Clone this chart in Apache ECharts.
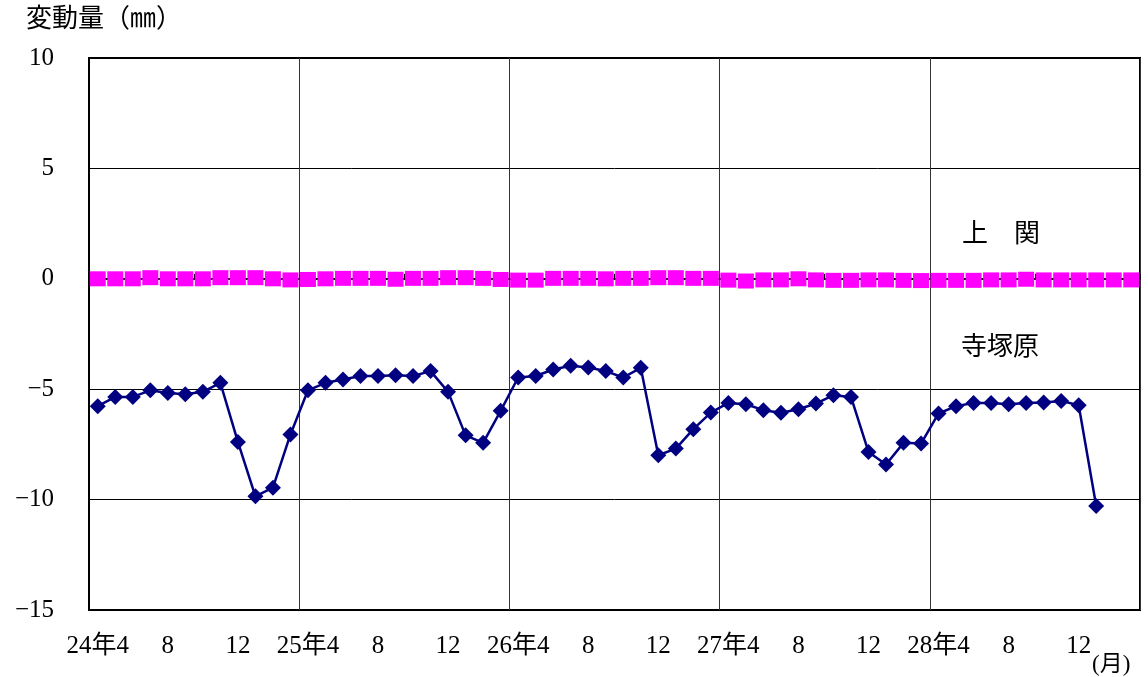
<!DOCTYPE html>
<html>
<head>
<meta charset="utf-8">
<script src="https://cdn.jsdelivr.net/npm/echarts@6/dist/echarts.min.js"></script>
<style>
html,body{margin:0;padding:0;background:#fff;}
#chart{width:1148px;height:677px;}
</style>
</head>
<body>
<div id="chart"></div>
<script>
const months = [
  '24年4','5','6','7','8','9','10','11','12','1','2','3',
  '25年4','5','6','7','8','9','10','11','12','1','2','3',
  '26年4','5','6','7','8','9','10','11','12','1','2','3',
  '27年4','5','6','7','8','9','10','11','12','1','2','3',
  '28年4','5','6','7','8','9','10','11','12','1','2','3'
];
const kaminosekiName = '上　関';
const kaminoseki = [
  0, 0, 0, 0.05, 0, 0, 0, 0.05, 0.05, 0.05, 0, -0.05,
  -0.03, 0, 0.02, 0.02, 0.02, -0.02, 0.02, 0.02, 0.05, 0.05, 0.02, -0.03,
  -0.06, -0.06, 0.02, 0.02, 0.02, 0, 0.02, 0.02, 0.05, 0.05, 0.02, 0.02,
  -0.06, -0.1, -0.05, -0.05, 0, -0.05, -0.07, -0.07, -0.05, -0.05, -0.07, -0.08,
  -0.07, -0.07, -0.07, -0.05, -0.05, -0.02, -0.05, -0.05, -0.05, -0.05, -0.05, -0.05
];
const terazukabaruName = '寺塚原';
const terazukabaru = [
  -5.77, -5.35, -5.35, -5.05, -5.17, -5.23, -5.12, -4.71, -7.39, -9.85, -9.46, -7.05,
  -5.05, -4.71, -4.56, -4.40, -4.40, -4.37, -4.40, -4.18, -5.12, -7.09, -7.43, -5.98,
  -4.47, -4.40, -4.11, -3.94, -4.02, -4.18, -4.47, -4.03, -7.99, -7.69, -6.81, -6.06,
  -5.62, -5.68, -5.95, -6.07, -5.91, -5.65, -5.27, -5.35, -7.84, -8.41, -7.43, -7.46,
  -6.10, -5.77, -5.62, -5.62, -5.68, -5.62, -5.60, -5.53, -5.73, -10.29, null, null
];
const yTitle = '変動量（㎜）';
const xUnit = '(月)';

const serif = "'Liberation Serif', 'Noto Sans CJK JP', serif";
const sans = "'Noto Sans CJK JP', sans-serif";

const chart = echarts.init(document.getElementById('chart'), null, {renderer: 'canvas'});
chart.setOption({
  animation: false,
  backgroundColor: '#fff',
  grid: {left: 89, top: 58, right: 8, bottom: 67, show: true, borderColor: '#000', borderWidth: 2, backgroundColor: 'transparent'},
  xAxis: {
    type: 'category',
    data: months,
    boundaryGap: true,
    axisLine: {lineStyle: {color: '#000', width: 2}},
    axisTick: {show: true, inside: true, interval: 5, length: 5, lineStyle: {color: '#000', width: 1}},
    axisLabel: {interval: 3, margin: 24, color: '#000', fontSize: 25, fontFamily: serif},
    splitLine: {show: true, interval: 11, lineStyle: {color: '#333', width: 1}}
  },
  yAxis: {
    type: 'value',
    min: -15, max: 10, interval: 5,
    axisLine: {show: true, lineStyle: {color: '#000', width: 2}},
    axisTick: {show: false},
    axisLabel: {margin: 35, color: '#000', fontSize: 25, fontFamily: serif,
      formatter: function (v) { return String(v).replace('-', '−'); }},
    splitLine: {show: true, lineStyle: {color: '#000', width: 1}}
  },
  graphic: [
    {type: 'text', left: 26, top: 7, style: {text: yTitle, fontSize: 26, fontFamily: serif, fill: '#000'}},
    {type: 'text', left: 1092, top: 653, style: {text: xUnit, fontSize: 23, fontFamily: serif, fill: '#000'}},
    {type: 'text', left: 962, top: 219, style: {text: kaminosekiName, fontSize: 26, fontFamily: sans, fill: '#000'}},
    {type: 'text', left: 961, top: 332, style: {text: terazukabaruName, fontSize: 26, fontFamily: sans, fill: '#000'}}
  ],
  series: [
    {
      name: kaminosekiName,
      type: 'line',
      data: kaminoseki,
      symbol: 'rect',
      symbolSize: [16, 15],
      showAllSymbol: true,
      lineStyle: {width: 0, opacity: 0},
      itemStyle: {color: '#FF00FF'}
    },
    {
      name: terazukabaruName,
      type: 'line',
      data: terazukabaru,
      symbol: 'diamond',
      symbolSize: 16,
      showAllSymbol: true,
      connectNulls: false,
      lineStyle: {width: 2.5, color: '#000080'},
      itemStyle: {color: '#000080'}
    }
  ]
});
</script>
</body>
</html>
